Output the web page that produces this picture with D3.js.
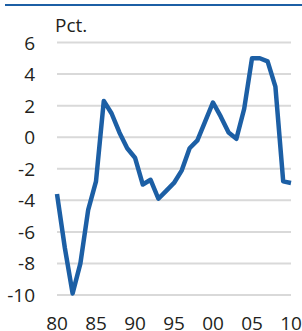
<!DOCTYPE html>
<html>
<head>
<meta charset="utf-8">
<script src="https://cdn.jsdelivr.net/npm/d3@7"></script>
<style>
  html, body { margin: 0; padding: 0; background: #fff; }
  svg text { font-family: "Open Sans", sans-serif; fill: #231f20; }
</style>
</head>
<body>
<svg id="chart"></svg>
<script>
var width = 302;
var height = 331;

var years = [1980, 1981, 1982, 1983, 1984, 1985, 1986, 1987, 1988, 1989,
  1990, 1991, 1992, 1993, 1994, 1995, 1996, 1997, 1998, 1999,
  2000, 2001, 2002, 2003, 2004, 2005, 2006, 2007, 2008, 2009, 2010];
var values = [-3.6, -7.0, -9.9, -8.0, -4.6, -2.8, 2.3, 1.5, 0.3, -0.7,
  -1.3, -3.0, -2.7, -3.9, -3.4, -2.9, -2.1, -0.7, -0.2, 1.0,
  2.2, 1.3, 0.3, -0.1, 1.8, 5.0, 5.0, 4.8, 3.2, -2.8, -2.9];
var yTicks = [6, 4, 2, 0, -2, -4, -6, -8, -10];
var xTicks = [1980, 1985, 1990, 1995, 2000, 2005, 2010];
var unitLabel = 'Pct.';

var blue = '#1c5fa5';

var svg = d3.select('#chart')
  .attr('width', width)
  .attr('height', height);

// top rule
svg.append('rect')
  .attr('x', 5)
  .attr('y', 4)
  .attr('width', width - 5)
  .attr('height', 2)
  .attr('fill', blue);

var x = d3.scaleLinear()
  .domain([1980, 2010])
  .range([57, 291]);

var y = d3.scaleLinear()
  .domain([6, -10])
  .range([42.5, 295]);

// gridlines
svg.append('g')
  .selectAll('line')
  .data(yTicks)
  .enter().append('line')
    .attr('x1', 57)
    .attr('x2', 291)
    .attr('y1', function(d) { return y(d); })
    .attr('y2', function(d) { return y(d); })
    .attr('stroke', '#d9d9d9')
    .attr('stroke-width', 2);

// y labels
svg.append('g')
  .selectAll('text')
  .data(yTicks)
  .enter().append('text')
    .attr('x', 35)
    .attr('y', function(d) { return y(d) + 7; })
    .attr('text-anchor', 'end')
    .style('font-size', '19px')
    .text(function(d) { return d; });

// x labels
svg.append('g')
  .selectAll('text')
  .data(xTicks)
  .enter().append('text')
    .attr('x', function(d) { return x(d); })
    .attr('y', 330)
    .attr('text-anchor', 'middle')
    .style('font-size', '19px')
    .text(function(d) { return String(d).slice(2); });

svg.append('text')
  .attr('x', 55)
  .attr('y', 32)
  .style('font-size', '19px')
  .text(unitLabel);

var line = d3.line()
  .x(function(d, i) { return x(years[i]); })
  .y(function(d) { return y(d); });

svg.append('path')
  .datum(values)
  .attr('d', line)
  .attr('fill', 'none')
  .attr('stroke', blue)
  .attr('stroke-width', 4.5)
  .attr('stroke-linejoin', 'round');
</script>
</body>
</html>
